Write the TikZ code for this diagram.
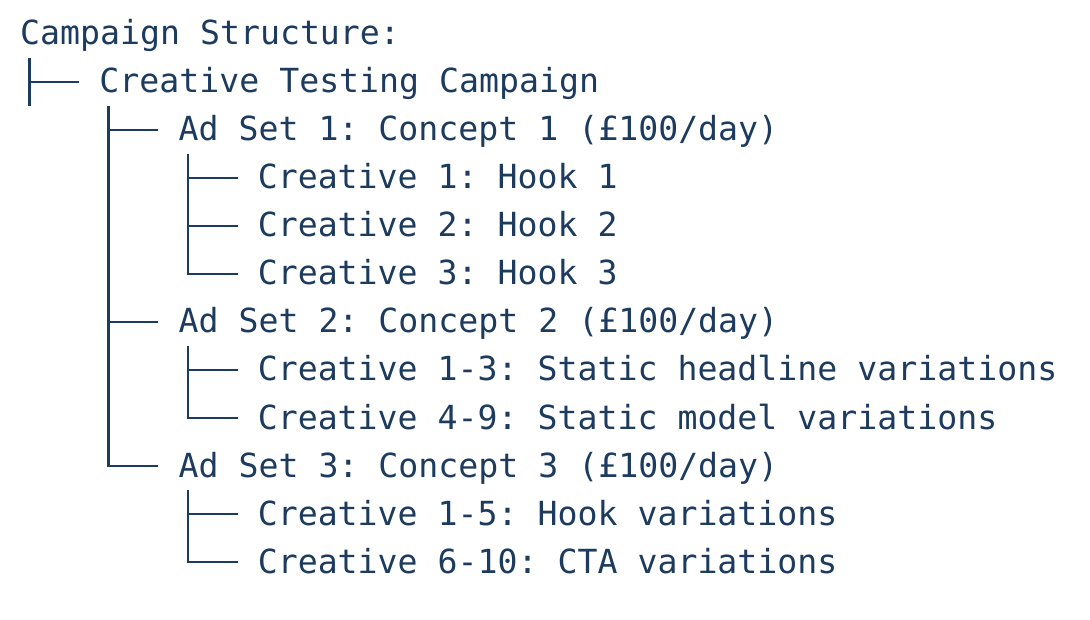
\documentclass[tikz,border=0pt]{standalone}
\usepackage{fontspec}
\setmonofont{DejaVu Sans Mono}
\definecolor{navy}{HTML}{1C3B5E}
\begin{document}
\begin{tikzpicture}[x=1pt, y=1pt,
  treetext/.style={anchor=base west, inner sep=0pt, text=navy, font=\ttfamily\fontsize{33.2}{40}\selectfont},
  treeline/.style={draw=navy, line width=2.5pt}]
  \useasboundingbox (0,0) rectangle (1090,-620);
  % Nodes
  \node (root) [treetext] at (20, -45) {Campaign Structure:};
  \node (camp) [treetext] at (99.2, -93) {Creative Testing Campaign};
  \node (set1) [treetext] at (178.4, -141) {Ad Set 1: Concept 1 (£100/day)};
  \node (c11) [treetext] at (257.6, -189) {Creative 1: Hook 1};
  \node (c12) [treetext] at (257.6, -237) {Creative 2: Hook 2};
  \node (c13) [treetext] at (257.6, -285) {Creative 3: Hook 3};
  \node (set2) [treetext] at (178.4, -333) {Ad Set 2: Concept 2 (£100/day)};
  \node (c21) [treetext] at (257.6, -381) {Creative 1-3: Static headline variations};
  \node (c22) [treetext] at (257.6, -429) {Creative 4-9: Static model variations};
  \node (set3) [treetext] at (178.4, -477) {Ad Set 3: Concept 3 (£100/day)};
  \node (c31) [treetext] at (257.6, -525) {Creative 1-5: Hook variations};
  \node (c32) [treetext] at (257.6, -573) {Creative 6-10: CTA variations};
  \coordinate (rootend) at ([shift={(9.5pt,-61pt)}]root.base west);
  % Arrow
  \draw[treeline] ([shift={(9.5pt,-13pt)}]root.base west) -- (rootend);
  \draw[treeline] ([shift={(9.5pt,-13pt)}]root.base west) |- ([shift={(-20pt,11pt)}]camp.base west);
  \draw[treeline] ([shift={(9.5pt,-13pt)}]camp.base west) |- ([shift={(-20pt,11pt)}]set1.base west);
  \draw[treeline] ([shift={(9.5pt,-13pt)}]camp.base west) |- ([shift={(-20pt,11pt)}]set2.base west);
  \draw[treeline] ([shift={(9.5pt,-13pt)}]camp.base west) |- ([shift={(-20pt,11pt)}]set3.base west);
  \draw[treeline] ([shift={(9.5pt,-13pt)}]set1.base west) |- ([shift={(-20pt,11pt)}]c11.base west);
  \draw[treeline] ([shift={(9.5pt,-13pt)}]set1.base west) |- ([shift={(-20pt,11pt)}]c12.base west);
  \draw[treeline] ([shift={(9.5pt,-13pt)}]set1.base west) |- ([shift={(-20pt,11pt)}]c13.base west);
  \draw[treeline] ([shift={(9.5pt,-13pt)}]set2.base west) |- ([shift={(-20pt,11pt)}]c21.base west);
  \draw[treeline] ([shift={(9.5pt,-13pt)}]set2.base west) |- ([shift={(-20pt,11pt)}]c22.base west);
  \draw[treeline] ([shift={(9.5pt,-13pt)}]set3.base west) |- ([shift={(-20pt,11pt)}]c31.base west);
  \draw[treeline] ([shift={(9.5pt,-13pt)}]set3.base west) |- ([shift={(-20pt,11pt)}]c32.base west);
\end{tikzpicture}
\end{document}
